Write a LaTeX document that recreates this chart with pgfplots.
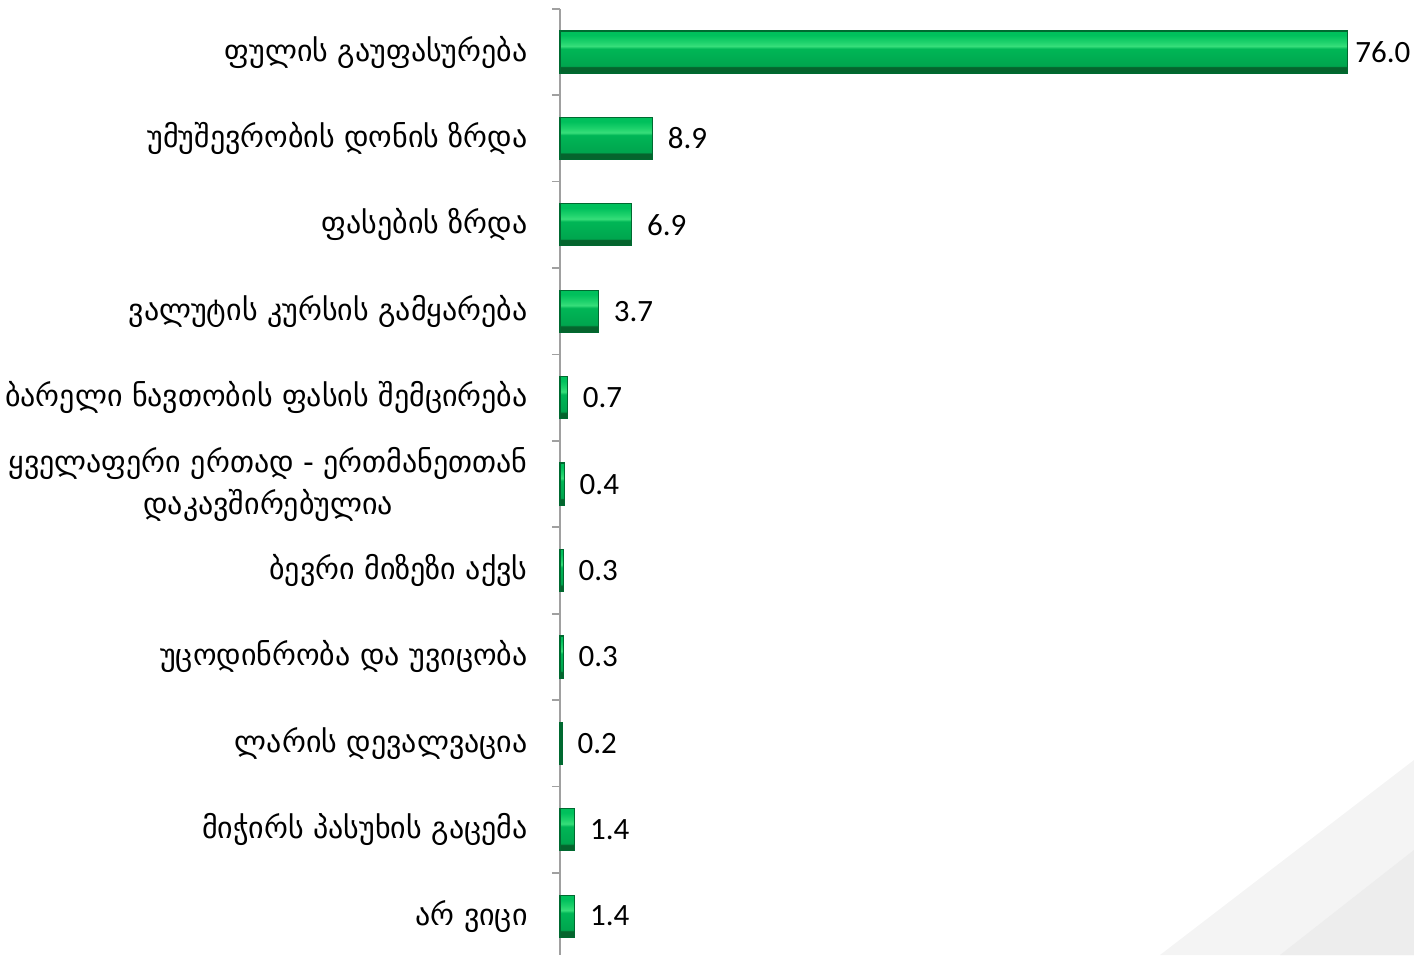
\documentclass[border=0pt]{standalone}
\usepackage{fontspec}
\setmainfont{DejaVu Sans}
\newfontfamily\numfont{Carlito}
\usepackage{pgfplots}
\pgfplotsset{compat=1.18}
\definecolor{axgray}{RGB}{160,160,160}
\definecolor{gedge}{RGB}{0,105,48}
\definecolor{gdark}{RGB}{5,100,45}
\definecolor{gmain}{RGB}{0,165,78}
\definecolor{gmain2}{RGB}{0,182,86}
\definecolor{glight}{RGB}{55,222,122}
\definecolor{glight2}{RGB}{30,210,108}
\definecolor{gtopc}{RGB}{0,192,92}
\pgfdeclareverticalshading{bevel}{100bp}{color(0bp)=(gdark); color(25bp)=(gdark); color(32bp)=(gdark); color(33.5bp)=(gmain); color(54bp)=(gmain2); color(57bp)=(glight); color(62bp)=(glight2); color(70bp)=(gtopc); color(75bp)=(gtopc); color(100bp)=(gtopc)}
\pgfplotsset{gbar/.style={draw=gedge, line width=0.6pt, shade, shading=bevel}}
\begin{document}
\begin{tikzpicture}
\useasboundingbox (0,0) rectangle (707pt,-477.5pt);
\fill[gray!9] (580pt,-477.5pt) -- (707pt,-380pt) -- (707pt,-477.5pt) -- cycle;
\fill[gray!14] (640pt,-477.5pt) -- (707pt,-425pt) -- (707pt,-477.5pt) -- cycle;
\begin{axis}[
  anchor=north west, at={(280pt,-4.4pt)},
  scale only axis, width=427pt, height=473.1pt,
  xmin=0, xmax=82.39, ymin=-0.5, ymax=10.45,
  y dir=reverse,
  axis y line=left, axis x line=none,
  axis line style={-, axgray, line width=0.8pt},
  xtick=\empty,
  ytick={0,...,10},
  major tick length=0pt,
  minor ytick={-0.5,0.5,...,9.5},
  minor tick length=4pt,
  tick align=outside,
  minor tick style={axgray, line width=0.8pt},
  yticklabels={ფულის გაუფასურება, უმუშევრობის დონის ზრდა, ფასების ზრდა, ვალუტის კურსის გამყარება, ბარელი ნავთობის ფასის შემცირება, {ყველაფერი ერთად - ერთმანეთთან\\დაკავშირებულია}, ბევრი მიზეზი აქვს, უცოდინრობა და უვიცობა, ლარის დევალვაცია, მიჭირს პასუხის გაცემა, არ ვიცი},
  yticklabel style={font=\fontsize{15}{21}\selectfont, align=center, anchor=east, inner sep=0pt, xshift=-16pt},
  xbar, bar width=21pt, bar shift=0pt,
  nodes near coords,
  /pgf/number format/fixed, /pgf/number format/fixed zerofill, /pgf/number format/precision=1,
  /pgf/number format/assume math mode=true,
  nodes near coords style={font=\numfont\fontsize{15.5}{18}\selectfont, anchor=west, inner sep=0pt, xshift=7.5pt},
  clip=false,
]
\addplot[gbar, nodes near coords style={xshift=-4pt}] coordinates {(76.0,0)};
\addplot[gbar] coordinates {(8.9,1)};
\addplot[gbar] coordinates {(6.9,2)};
\addplot[gbar] coordinates {(3.7,3)};
\addplot[gbar] coordinates {(0.7,4)};
\addplot[gbar] coordinates {(0.4,5)};
\addplot[gbar] coordinates {(0.3,6)};
\addplot[gbar] coordinates {(0.3,7)};
\addplot[gbar] coordinates {(0.2,8)};
\addplot[gbar] coordinates {(1.4,9)};
\addplot[gbar] coordinates {(1.4,10)};
\end{axis}
\end{tikzpicture}
\end{document}
